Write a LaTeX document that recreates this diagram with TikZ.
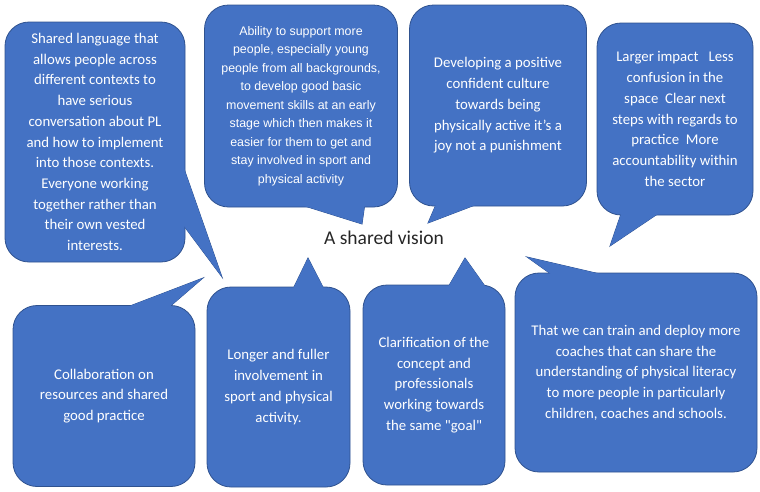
\documentclass[tikz,border=0pt]{standalone}
\usepackage{fontspec}
\setmainfont{Carlito}[Ligatures=TeXOff]
\newfontfamily\plainsans{Liberation Sans}
\definecolor{bubblefill}{HTML}{4472C4}
\definecolor{bubbleedge}{HTML}{2F528F}

\begin{document}
\begin{tikzpicture}[
  x=1pt, y=-1pt,
  bubble/.style={rectangle, rounded corners=24pt, draw=bubbleedge, fill=bubblefill, line width=0.8pt, text=white, align=center, inner sep=2pt, font=\fontsize{14.8}{20.7}\selectfont},
  tailline/.style={draw=bubbleedge, fill=bubblefill, line width=0.8pt},
  tailfill/.style={fill=bubblefill},
  title/.style={font=\fontsize{19.5}{23}\selectfont, text=black!85}
]
  \useasboundingbox (0,0) rectangle (760,491);

  % tips of the speech bubbles
  \coordinate (t1) at (222,277);
  \coordinate (t2) at (362,224);
  \coordinate (t3) at (428,223);
  \coordinate (t4) at (610,246);
  \coordinate (t5) at (203,278);
  \coordinate (t6) at (308,258);
  \coordinate (t7) at (465,258);
  \coordinate (t8) at (527,257);

  % tail outlines go under the boxes
  \foreach \p/\t/\q in {{181,160}/t1/{181,222}, {295,203}/t2/{365,203}, {437,202}/t3/{483,202},
      {622,211}/t4/{662,211}, {122,309}/t5/{167,309}, {292,291}/t6/{325,291},
      {447,289}/t7/{487,289}, {555,277}/t8/{613,277}}
    \draw[tailline] (\p) -- (\t) -- (\q) -- cycle;

  \node[bubble, minimum width=180pt, minimum height=240pt] (vocab) at (95,142)
    {Shared language that\\allows people across\\different contexts to\\have serious\\conversation about PL\\and how to implement\\into those contexts.\\Everyone working\\together rather than\\their own vested\\interests.};
  \node[bubble, minimum width=193pt, minimum height=202pt, font=\plainsans\fontsize{12.4}{18.5}\selectfont] (skills) at (301,106)
    {Ability to support more\\people, especially young\\people from all backgrounds,\\to develop good basic\\movement skills at an early\\stage which then makes it\\easier for them to get and\\stay involved in sport and\\physical activity};
  \node[bubble, minimum width=177pt, minimum height=201pt] (culture) at (498,105.5)
    {Developing a positive\\confident culture\\towards being\\physically active it’s a\\joy not a punishment};
  \node[bubble, minimum width=156pt, minimum height=192pt] (impact) at (675,119)
    {Larger impact\ \ \ Less\\confusion in the\\space\ \ Clear next\\steps with regards to\\practice\ \ More\\accountability within\\the sector};
  \node[bubble, minimum width=182pt, minimum height=181pt] (collab) at (104,396)
    {Collaboration on\\resources and shared\\good practice};
  \node[bubble, minimum width=143pt, minimum height=200pt] (involve) at (278.5,387)
    {Longer and fuller\\involvement in\\sport and physical\\activity.};
  \node[bubble, minimum width=142pt, minimum height=200pt] (concept) at (434,385)
    {Clarification of the\\concept and\\professionals\\working towards\\the same "goal"};
  \node[bubble, minimum width=242pt, minimum height=199pt] (coaches) at (636,372.5)
    {That we can train and deploy more\\coaches that can share the\\understanding of physical literacy\\to more people in particularly\\children, coaches and schools.};

  % tail fills hide the box edge at the join
  \foreach \p/\t/\q in {{181,160}/t1/{181,222}, {295,203}/t2/{365,203}, {437,202}/t3/{483,202},
      {622,211}/t4/{662,211}, {122,309}/t5/{167,309}, {292,291}/t6/{325,291},
      {447,289}/t7/{487,289}, {555,277}/t8/{613,277}}
    \fill[tailfill] (\p) -- (\t) -- (\q) -- cycle;

  \node[title] (vision) at (384,238) {A shared vision};
\end{tikzpicture}
\end{document}
